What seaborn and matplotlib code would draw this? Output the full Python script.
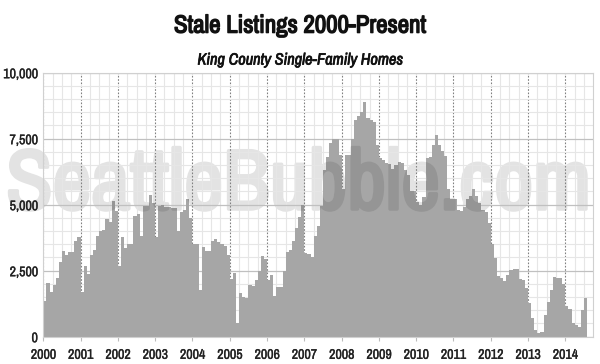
import numpy as np
import pandas as pd
import matplotlib
matplotlib.use("Agg")
import matplotlib.pyplot as plt
import matplotlib.patheffects as pe
from matplotlib import font_manager
from matplotlib.font_manager import FontProperties
from matplotlib.path import Path
from matplotlib.ticker import FixedLocator, MultipleLocator, FuncFormatter
import seaborn as sns

# monthly stale listings, Jan 2000 - Jul 2014
y2000 = [1360, 2050, 1690, 1950, 2230, 2820, 3230, 3110, 3190, 3210, 3610, 3760]
y2001 = [1690, 2690, 2370, 3100, 3300, 3830, 4020, 4050, 4450, 4350, 5130, 4760]
y2002 = [2660, 3770, 3350, 3520, 3520, 4590, 4640, 3800, 4960, 4940, 5350, 5060]
y2003 = [3760, 4950, 5000, 4900, 4900, 4880, 4870, 4010, 4740, 4800, 5200, 4480]
y2004 = [3530, 3530, 1750, 3400, 3260, 3240, 3640, 3700, 3580, 3500, 3430, 3080]
y2005 = [2200, 2420, 500, 1670, 1515, 1480, 1960, 1920, 2150, 2500, 3050, 2950]
y2006 = [2150, 2350, 1550, 1870, 1890, 2480, 3200, 3280, 3640, 4130, 4550, 5000]
y2007 = [3170, 3150, 3000, 3800, 4180, 4950, 6300, 6800, 7350, 7500, 7500, 6880]
y2008 = [5600, 6900, 6900, 7500, 8200, 8350, 8500, 8880, 8300, 8200, 8150, 7250]
y2009 = [6760, 6700, 6590, 6550, 6350, 6500, 6630, 6570, 6320, 6130, 5500, 5500]
y2010 = [5100, 5000, 5300, 6750, 6800, 7250, 7650, 7250, 7050, 6850, 5600, 5200]
y2011 = [5200, 4800, 4750, 4920, 5200, 5330, 5580, 5330, 5050, 4800, 4740, 4300]
y2012 = [3500, 2980, 2285, 2220, 2120, 2350, 2520, 2575, 2550, 2180, 2130, 1860]
y2013 = [1270, 700, 255, 150, 190, 825, 1330, 1775, 2245, 2220, 2220, 2005]
y2014 = [1165, 1040, 530, 445, 380, 1015, 1460]

years = list(range(2000, 2015))
listings = (y2000 + y2001 + y2002 + y2003 + y2004 + y2005 + y2006 + y2007
            + y2008 + y2009 + y2010 + y2011 + y2012 + y2013 + y2014)

df = pd.DataFrame({"month": np.arange(len(listings)), "listings": listings})

# a condensed face if there is one, else DejaVu Sans
faces = [f for f in font_manager.fontManager.ttflist
         if "Narrow" in f.name or "Condensed" in f.name]
family = faces[0].name if faces else "DejaVu Sans"


def fp(size, bold=False, italic=False):
    return FontProperties(family=family, size=size,
                          weight="bold" if bold else "normal",
                          style="italic" if italic else "normal")


def thick(lw, color):
    return [pe.withStroke(linewidth=lw, foreground=color)]


fig = plt.figure(figsize=(6, 3.64), dpi=100)
ax = fig.add_axes([0.0722, 0.075, 0.9161, 0.7253])

sns.barplot(data=df, x="month", y="listings", color="#a6a6a6", saturation=1,
            width=1, linewidth=0, errorbar=None, ax=ax)

ax.set_xlim(-0.5, 176.4)
ax.set_ylim(0, 10000)
ax.set_xlabel("")
ax.set_ylabel("")

ax.xaxis.set_major_locator(FixedLocator([-0.5 + 12 * i for i in range(len(years))]))
ax.xaxis.set_minor_locator(FixedLocator([-0.5 + 3 * i for i in range(60)]))
ax.set_xticklabels([str(y) for y in years])
ax.yaxis.set_major_locator(MultipleLocator(2500))
ax.yaxis.set_minor_locator(MultipleLocator(500))
ax.yaxis.set_major_formatter(FuncFormatter(lambda v, p: f"{v:,.0f}"))

ax.set_axisbelow(True)
ax.grid(which="minor", axis="both", color="#e6e6e6", lw=0.8)
ax.grid(which="major", axis="y", color="#c0c0c0", lw=0.9)
ax.grid(which="major", axis="x", color="#808080", lw=0.8, ls=(0, (1.5, 1.5)))

ax.tick_params(axis="y", which="both", length=0, pad=4)
ax.tick_params(axis="x", which="major", length=3, color="#bbbbbb", pad=5)
ax.tick_params(axis="x", which="minor", length=0)
for s in ax.spines.values():
    s.set_color("#d0d0d0")
    s.set_linewidth(0.8)

renderer = fig.canvas.get_renderer()


def fit(t, width_px, max_size=None):
    w = t.get_window_extent(renderer).width
    size = t.get_fontsize() * width_px / w
    if max_size:
        size = min(size, max_size)
    t.set_fontsize(size)
    return size


# tick labels: size so that "10,000" is about 35 px wide
probe = fig.text(0, 0, "10,000", fontproperties=fp(10, bold=True))
tick_size = fit(probe, 35, max_size=10)
probe.remove()
for lab in ax.get_xticklabels() + ax.get_yticklabels():
    lab.set_fontproperties(fp(tick_size, bold=True))
    lab.set_color("#222222")
    lab.set_path_effects(thick(0.25, "#222222"))

title = fig.text(0.5, 0.931, "Stale Listings 2000-Present", ha="center", va="center",
                 fontproperties=fp(17, bold=True), color="#111111")
fit(title, 252, max_size=20)
title.set_path_effects(thick(1.0, "#111111"))
sub = fig.text(0.5, 0.835, "King County Single-Family Homes", ha="center", va="center",
               fontproperties=fp(11.5, italic=True), color="#111111")
fit(sub, 205, max_size=12.5)
sub.set_path_effects(thick(0.5, "#111111"))

# watermark: light copy under the bars, darker copy clipped to the bars
bars_path = Path.make_compound_path(
    *[p.get_path().transformed(p.get_patch_transform()) for p in ax.patches])
wm_text = "SeattleBubble.com"
wm_lo = ax.text(0.498, 0.431, wm_text, transform=fig.transFigure, ha="center",
                va="baseline", fontproperties=fp(40, bold=True), color="#e3e3e3",
                zorder=0.3, clip_on=False)
wm_size = fit(wm_lo, 585)
cap = 0.73 * wm_size * 100 / 72
wm_y = 1 - (178 + cap / 2) / 364
wm_lo.set_y(wm_y)
wm_lo.set_path_effects(thick(2.5, "#e3e3e3"))

wm_hi = ax.text(0.498, wm_y, wm_text, transform=fig.transFigure, ha="center",
                va="baseline", fontproperties=fp(wm_size, bold=True), color="#959595",
                zorder=3)
wm_hi.set_clip_on(True)
wm_hi.set_clip_path(bars_path, ax.transData)
wm_hi.set_path_effects(thick(2.5, "#959595"))

fig.savefig("out.png", dpi=100)
